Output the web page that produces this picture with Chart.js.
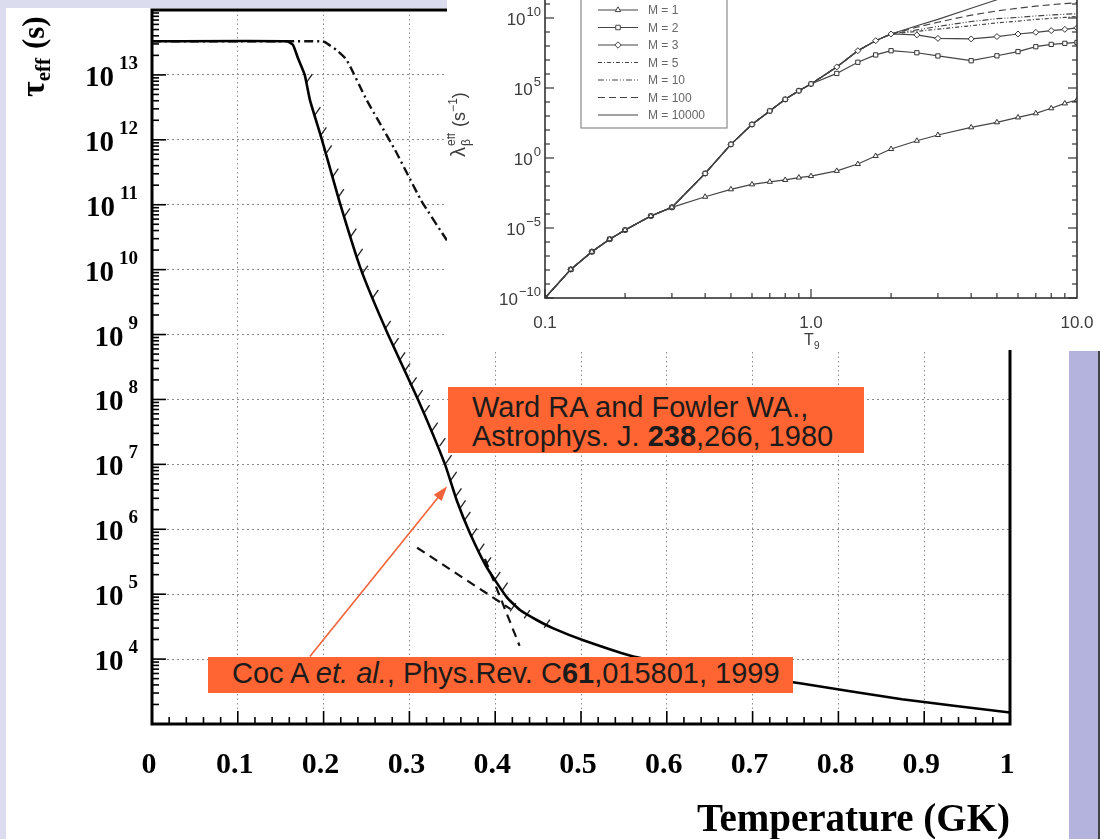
<!DOCTYPE html>
<html>
<head>
<meta charset="utf-8">
<script src="https://cdn.jsdelivr.net/npm/chart.js@4.4.0/dist/chart.umd.min.js"></script>
<style>
  html, body { margin: 0; padding: 0; }
  body { width: 1100px; height: 839px; position: relative; overflow: hidden; background: #fff;
         font-family: "Liberation Sans", Arial, sans-serif; }
  .strip { position: absolute; background: #dcdcef; }
  #main { position: absolute; left: 0; top: 0; }
  #inset { position: absolute; left: 447px; top: -60px; background: #fff; }
  .ref { position: absolute; background: #ff6532; color: #1b1b1b; font-size: 29px; line-height: 29px;
         white-space: nowrap; box-sizing: content-box; }
</style>
</head>
<body>
<div class="strip" style="left:0;top:0;width:1100px;height:8px"></div>
<div class="strip" style="left:0;top:0;width:6px;height:839px"></div>
<div style="position:absolute;left:1069px;top:351px;width:29px;height:488px;background:#b3b3dd"></div>
<div style="position:absolute;left:1098px;top:351px;width:2px;height:488px;background:#444"></div>
<canvas id="main" width="1100" height="839"></canvas>
<canvas id="inset" width="653" height="410"></canvas>
<div class="ref" style="left:448px;top:387px;width:392px;height:60px;padding:6px 0 0 24px">Ward RA and Fowler WA.,<br>Astrophys. J. <b>238</b>,266, 1980</div>
<div class="ref" style="left:208px;top:657px;width:561px;height:36px;padding:0 0 0 24px;line-height:33px">Coc A <i>et. al.</i>, Phys.Rev. C<b>61</b>,015801, 1999</div>

<script>
// ---- main chart data (T in GK, tau in s) ----
const xTicks = [0, 0.1, 0.2, 0.3, 0.4, 0.5, 0.6, 0.7, 0.8, 0.9, 1];
const xLabels = ['0', '0.1', '0.2', '0.3', '0.4', '0.5', '0.6', '0.7', '0.8', '0.9', '1'];
const yTicks = [1e3, 1e4, 1e5, 1e6, 1e7, 1e8, 1e9, 1e10, 1e11, 1e12, 1e13, 1e14];
const yLabelExps = [4, 5, 6, 7, 8, 9, 10, 11, 12, 13];

// Coc A et al. (solid)
const cocT = [0, 0.1573, 0.1643, 0.1702, 0.178, 0.1841, 0.1981, 0.218, 0.2436, 0.2751, 0.31, 0.3415, 0.3551, 0.3706, 0.3901, 0.4134, 0.4289, 0.4484, 0.4677, 0.5027, 0.561, 0.64, 0.757, 0.874, 1.0];
const cocTau = [3.3e13, 3.3e13, 2.9e13, 1.8e13, 1e13, 4.1e12, 1e12, 1.18e11, 1e10, 1e9, 1e8, 1e7, 2.8e6, 8.7e5, 2.6e5, 9.0e4, 5.7e4, 4.0e4, 2.97e4, 1.95e4, 1.1e4, 7.1e3, 4.2e3, 2.4e3, 1.5e3];
// dash-dot curve
const ddT = [0, 0.1975, 0.2016, 0.2153, 0.2269, 0.2502, 0.2832, 0.3135, 0.3435, 0.37];
const ddTau = [3.3e13, 3.3e13, 3.2e13, 2.4e13, 1.7e13, 4.1e12, 7.0e11, 1.18e11, 2.86e10, 9e9];
// dashed fits
const dash1T = [0.309, 0.418];
const dash1Tau = [5.2e5, 5.9e4];
const dash2T = [0.388, 0.4284];
const dash2Tau = [3.5e5, 1.6e4];
// Ward & Fowler hatch marks
const hatchT = [0.1835, 0.1929, 0.1999, 0.2061, 0.2138, 0.2203, 0.2274, 0.2347, 0.2421, 0.2483, 0.2604, 0.2748, 0.284, 0.2916, 0.2974, 0.305, 0.312, 0.3202, 0.3296, 0.3385, 0.3458, 0.3517, 0.3573, 0.3621, 0.3677, 0.3753, 0.3839, 0.3918, 0.4026, 0.4111, 0.4207, 0.4371, 0.4604];
const hatchTau = [8.9e12, 2.75e12, 1.35e12, 7.1e11, 3.1e11, 1.5e11, 7.6e10, 3.7e10, 1.8e10, 1e10, 4.2e9, 1.4e9, 7.6e8, 4.6e8, 3.1e8, 1.9e8, 1.2e8, 7.1e7, 3.8e7, 2.2e7, 1.2e7, 6.6e6, 3.7e6, 2.4e6, 1.6e6, 8.9e5, 5.2e5, 3.2e5, 1.9e5, 1.3e5, 6.3e4, 4.9e4, 3.5e4];
// arrow (from label to curve)
const arrowFrom = [0.184, 1.1e4];
const arrowTo = [0.344, 4.6e6];

// ---- inset data (T9, lambda in s^-1) ----
const t9 = [0.1, 0.125, 0.15, 0.175, 0.2, 0.25, 0.3, 0.4, 0.5, 0.6, 0.7, 0.8, 0.9, 1.0, 1.25, 1.5, 1.75, 2, 2.5, 3, 4, 5, 6, 7, 8, 9, 10];
const lamM1 = [1e-10, 1.1e-8, 2.0e-7, 1.6e-6, 7.2e-6, 7.2e-5, 3.0e-4, 1.7e-3, 5.8e-3, 1.3e-2, 2.0e-2, 2.7e-2, 4.0e-2, 5.1e-2, 0.12, 0.37, 1.4, 4.4, 17, 44, 155, 355, 790, 1550, 3550, 7900, 1.4e4];
const lamM2 = [1e-10, 1.1e-8, 2.0e-7, 1.6e-6, 7.2e-6, 7.2e-5, 3.0e-4, 0.079, 9.5, 250, 2300, 1.55e4, 6.3e4, 1.95e5, 1.1e6, 6.9e6, 2.3e7, 4.6e7, 3.3e7, 1.95e7, 8.9e6, 2.0e7, 4.0e7, 8.9e7, 1.3e8, 1.55e8, 1.8e8];
const lamM3 = [1e-10, 1.1e-8, 2.0e-7, 1.6e-6, 7.2e-6, 7.2e-5, 3.0e-4, 0.079, 9.5, 250, 2300, 1.55e4, 6.3e4, 1.95e5, 3.2e6, 4.6e7, 2.4e8, 7.2e8, 6.2e8, 3.5e8, 3.2e8, 4.7e8, 7.2e8, 9.5e8, 1.26e9, 1.55e9, 2.0e9];
const lamM5 = [1e-10, 1.1e-8, 2.0e-7, 1.6e-6, 7.2e-6, 7.2e-5, 3.0e-4, 0.079, 9.5, 250, 2300, 1.55e4, 6.3e4, 1.95e5, 3.2e6, 4.6e7, 2.4e8, 7.2e8, 1.1e9, 1.6e9, 2.8e9, 4.5e9, 6.0e9, 7.9e9, 9.5e9, 1.1e10, 1.26e10];
const lamM10 = [1e-10, 1.1e-8, 2.0e-7, 1.6e-6, 7.2e-6, 7.2e-5, 3.0e-4, 0.079, 9.5, 250, 2300, 1.55e4, 6.3e4, 1.95e5, 3.2e6, 4.6e7, 2.4e8, 7.2e8, 1.4e9, 2.5e9, 5.6e9, 8.9e9, 1.1e10, 1.4e10, 1.65e10, 1.85e10, 2.0e10];
const lamM100 = [1e-10, 1.1e-8, 2.0e-7, 1.6e-6, 7.2e-6, 7.2e-5, 3.0e-4, 0.079, 9.5, 250, 2300, 1.55e4, 6.3e4, 1.95e5, 3.2e6, 4.6e7, 2.4e8, 7.2e8, 2.2e9, 5.0e9, 1.6e10, 3.2e10, 5.0e10, 7.1e10, 8.9e10, 1.07e11, 1.26e11];
const lamM10000 = [1e-10, 1.1e-8, 2.0e-7, 1.6e-6, 7.2e-6, 7.2e-5, 3.0e-4, 0.079, 9.5, 250, 2300, 1.55e4, 6.3e4, 1.95e5, 3.2e6, 4.6e7, 2.4e8, 7.2e8, 2.8e9, 7.9e9, 5.0e10, 2.0e11, 6.3e11, 1.6e12, 3.2e12, 6.3e12, 1e13];
const insetNames = ['M = 1', 'M = 2', 'M = 3', 'M = 5', 'M = 10', 'M = 100', 'M = 10000'];
const insetYExps = [-10, -5, 0, 5, 10];
const insetXTicks = [0.1, 1, 10];
const insetXLabels = ['0.1', '1.0', '10.0'];

const pts = (xs, ys) => xs.map((v, i) => ({ x: v, y: ys[i] }));

function seg(ctx, x1, y1, x2, y2) {
  ctx.beginPath(); ctx.moveTo(x1, y1); ctx.lineTo(x2, y2); ctx.stroke();
}

// frame, inward ticks, tick labels, titles, arrow for the main chart
const mainDecor = {
  id: 'mainDecor',
  afterDraw(chart) {
    const { ctx, chartArea: a, scales: { x, y } } = chart;
    ctx.save();
    ctx.strokeStyle = '#000';
    ctx.lineWidth = 3;
    ctx.strokeRect(a.left, a.top, a.right - a.left, a.bottom - a.top);

    // log minor ticks on the left axis
    ctx.lineWidth = 1.6;
    for (let e = 3; e < 14; e++) {
      for (let m = 1; m <= 9; m++) {
        const py = y.getPixelForValue(m * Math.pow(10, e));
        seg(ctx, a.left, py, a.left + (m === 1 ? 14 : 7), py);
      }
    }
    // bottom ticks every 0.02
    for (let i = 0; i <= 50; i++) {
      const px = x.getPixelForValue(i / 50);
      seg(ctx, px, a.bottom, px, a.bottom - (i % 5 === 0 ? 13 : 7));
    }

    ctx.fillStyle = '#000';
    ctx.textBaseline = 'alphabetic';
    // x labels
    ctx.font = 'bold 30px "Liberation Serif"';
    ctx.textAlign = 'center';
    xTicks.forEach((v, i) => ctx.fillText(xLabels[i], x.getPixelForValue(v) - 3, a.bottom + 49));
    // y labels: 10 with raised exponent
    yLabelExps.forEach(e => {
      const py = y.getPixelForValue(Math.pow(10, e));
      ctx.textAlign = 'right';
      ctx.font = 'bold 19px "Liberation Serif"';
      ctx.fillText(String(e), a.left - 14, py - 6);
      const w = ctx.measureText(String(e)).width;
      ctx.font = 'bold 29px "Liberation Serif"';
      ctx.fillText('10', a.left - 19 - w, py + 11);
    });
    // x title
    ctx.font = 'bold 39px "Liberation Serif"';
    ctx.textAlign = 'right';
    ctx.fillText('Temperature (GK)', a.right, a.bottom + 107);

    // y title, rotated
    ctx.save();
    ctx.translate(44, 97);
    ctx.rotate(-Math.PI / 2);
    ctx.textAlign = 'left';
    ctx.font = 'bold 34px "Liberation Serif"';
    ctx.fillText('τ', 0, 0);
    let off = ctx.measureText('τ').width;
    ctx.font = 'bold 21px "Liberation Serif"';
    ctx.fillText('eff', off, 6);
    off += ctx.measureText('eff').width + 9;
    ctx.font = 'bold 31px "Liberation Serif"';
    ctx.fillText('(s)', off, 0);
    ctx.restore();

    // arrow
    const x0 = x.getPixelForValue(arrowFrom[0]), y0 = y.getPixelForValue(arrowFrom[1]);
    const x1 = x.getPixelForValue(arrowTo[0]), y1 = y.getPixelForValue(arrowTo[1]);
    const ang = Math.atan2(y1 - y0, x1 - x0);
    ctx.strokeStyle = '#f2633a';
    ctx.fillStyle = '#f2633a';
    ctx.lineWidth = 1.6;
    seg(ctx, x0, y0, x1 - 10 * Math.cos(ang), y1 - 10 * Math.sin(ang));
    ctx.beginPath();
    ctx.moveTo(x1, y1);
    ctx.lineTo(x1 - 15 * Math.cos(ang) + 5 * Math.sin(ang), y1 - 15 * Math.sin(ang) - 5 * Math.cos(ang));
    ctx.lineTo(x1 - 15 * Math.cos(ang) - 5 * Math.sin(ang), y1 - 15 * Math.sin(ang) + 5 * Math.cos(ang));
    ctx.closePath();
    ctx.fill();
    ctx.restore();
  }
};

const gridOpts = { color: '#8a8a8a', lineWidth: 1, drawTicks: false, borderDash: [2, 3] };

new Chart(document.getElementById('main'), {
  type: 'line',
  data: {
    datasets: [
      { data: pts(cocT, cocTau), borderColor: '#000', borderWidth: 2.6, pointRadius: 0, tension: 0.15 },
      { data: pts(ddT, ddTau), borderColor: '#111', borderWidth: 2.4, borderDash: [9, 4, 2, 4], pointRadius: 0, tension: 0.15 },
      { data: pts(dash1T, dash1Tau), borderColor: '#111', borderWidth: 2.2, borderDash: [9, 6], pointRadius: 0 },
      { data: pts(dash2T, dash2Tau), borderColor: '#111', borderWidth: 2.2, borderDash: [9, 6], pointRadius: 0 },
      { data: pts(hatchT, hatchTau), showLine: false, pointStyle: 'line', pointRadius: 5, pointRotation: -55,
        pointBorderColor: '#222', pointBorderWidth: 1.3, borderColor: '#222' }
    ]
  },
  options: {
    responsive: false,
    animation: false,
    devicePixelRatio: 1,
    layout: { padding: { left: 152, top: 10, right: 90, bottom: 115 } },
    plugins: { legend: { display: false }, tooltip: { enabled: false } },
    scales: {
      x: {
        type: 'linear', min: 0, max: 1,
        afterBuildTicks: s => { s.ticks = xTicks.map(v => ({ value: v })); },
        ticks: { display: false },
        grid: gridOpts,
        border: { display: false, dash: [1.5, 3] }
      },
      y: {
        type: 'logarithmic', min: 1e3, max: 1e14,
        afterBuildTicks: s => { s.ticks = yTicks.map(v => ({ value: v })); },
        ticks: { display: false },
        grid: gridOpts,
        border: { display: false, dash: [2, 3] }
      }
    }
  },
  plugins: [mainDecor]
});

// ---- inset ----
const insetDecor = {
  id: 'insetDecor',
  afterDraw(chart) {
    const { ctx, chartArea: a, scales: { x, y } } = chart;
    ctx.save();
    ctx.strokeStyle = '#333';
    ctx.lineWidth = 1.6;
    ctx.strokeRect(a.left, a.top, a.right - a.left, a.bottom - a.top);
    ctx.lineWidth = 1.2;
    for (let e = -10; e <= 15; e++) {
      const py = y.getPixelForValue(Math.pow(10, e));
      const len = e % 5 === 0 ? 9 : 5;
      seg(ctx, a.left, py, a.left + len, py);
      seg(ctx, a.right, py, a.right - len, py);
    }
    for (let e = -1; e <= 0; e++) {
      for (let m = 1; m <= 9; m++) {
        const px = x.getPixelForValue(m * Math.pow(10, e));
        seg(ctx, px, a.bottom, px, a.bottom - (m === 1 ? 9 : 5));
      }
    }

    ctx.fillStyle = '#3c3c3c';
    ctx.textBaseline = 'alphabetic';
    insetYExps.forEach(e => {
      const py = y.getPixelForValue(Math.pow(10, e));
      const s = e < 0 ? '\u2212' + (-e) : String(e);
      ctx.textAlign = 'right';
      ctx.font = '13px "Liberation Sans"';
      ctx.fillText(s, a.left - 4, py - 2);
      const w = ctx.measureText(s).width;
      ctx.font = '17px "Liberation Sans"';
      ctx.fillText('10', a.left - 5 - w, py + 7);
    });
    ctx.textAlign = 'center';
    ctx.font = '17px "Liberation Sans"';
    insetXTicks.forEach((v, i) => ctx.fillText(insetXLabels[i], x.getPixelForValue(v), a.bottom + 30));
    // T9
    const tx = x.getPixelForValue(1);
    ctx.textAlign = 'left';
    ctx.font = '16px "Liberation Sans"';
    ctx.fillText('T', tx - 7, a.bottom + 47);
    ctx.font = '10px "Liberation Sans"';
    ctx.fillText('9', tx + 3, a.bottom + 51);

    // y title
    ctx.save();
    ctx.translate(a.left - 80, a.bottom - 141);
    ctx.rotate(-Math.PI / 2);
    ctx.textAlign = 'left';
    ctx.font = '20px "Liberation Sans"';
    ctx.fillText('λ', 0, 0);
    let off = ctx.measureText('λ').width + 1;
    ctx.font = '12px "Liberation Sans"';
    ctx.fillText('β', off, 5);
    ctx.fillText('eff', off, -10);
    off += ctx.measureText('eff').width + 6;
    ctx.font = '18px "Liberation Sans"';
    ctx.fillText('(s', off, 0);
    off += ctx.measureText('(s').width;
    ctx.font = '12px "Liberation Sans"';
    ctx.fillText('\u22121', off, -8);
    off += ctx.measureText('\u22121').width;
    ctx.font = '18px "Liberation Sans"';
    ctx.fillText(')', off, 0);
    ctx.restore();

    // legend box
    const bx = a.left + 36, by = a.top + 44;
    ctx.fillStyle = '#fff';
    ctx.fillRect(bx, by, 146, 136);
    ctx.strokeStyle = '#8a8a8a';
    ctx.lineWidth = 1.2;
    ctx.strokeRect(bx, by, 146, 136);
    chart.data.datasets.forEach((ds, i) => {
      const yy = a.top + 62 + 17.5 * i;
      ctx.strokeStyle = ds.borderColor;
      ctx.lineWidth = ds.borderWidth;
      ctx.setLineDash(ds.borderDash || []);
      seg(ctx, a.left + 53, yy, a.left + 93, yy);
      ctx.setLineDash([]);
      if (ds.pointRadius > 0) {
        ctx.fillStyle = '#fff';
        ctx.lineWidth = 1;
        Chart.helpers.drawPoint(ctx, { pointStyle: ds.pointStyle, radius: 3.2, rotation: 0, borderWidth: 1 }, a.left + 73, yy);
      }
      ctx.fillStyle = '#666';
      ctx.font = '12px "Liberation Sans"';
      ctx.fillText(ds.label, a.left + 103, yy + 4);
    });
    ctx.restore();
  }
};

const insetStyles = [
  { pointStyle: 'triangle', pointRadius: 3, borderDash: [] },
  { pointStyle: 'rect', pointRadius: 3, borderDash: [] },
  { pointStyle: 'rectRot', pointRadius: 3, borderDash: [] },
  { pointStyle: false, pointRadius: 0, borderDash: [4, 2, 1, 2] },
  { pointStyle: false, pointRadius: 0, borderDash: [6, 2, 1, 2, 1, 2] },
  { pointStyle: false, pointRadius: 0, borderDash: [7, 4] },
  { pointStyle: false, pointRadius: 0, borderDash: [] }
];
const insetValues = [lamM1, lamM2, lamM3, lamM5, lamM10, lamM100, lamM10000];

new Chart(document.getElementById('inset'), {
  type: 'line',
  data: {
    datasets: insetValues.map((vals, i) => ({
      label: insetNames[i],
      data: pts(t9, vals),
      borderColor: '#444',
      borderWidth: 1.2,
      borderDash: insetStyles[i].borderDash,
      pointStyle: insetStyles[i].pointStyle || 'circle',
      pointRadius: insetStyles[i].pointRadius,
      pointBackgroundColor: '#fff',
      pointBorderColor: '#333',
      pointBorderWidth: 1
    }))
  },
  options: {
    responsive: false,
    animation: false,
    devicePixelRatio: 1,
    layout: { padding: { left: 98, top: 8, right: 23, bottom: 52 } },
    plugins: { legend: { display: false }, tooltip: { enabled: false } },
    scales: {
      x: { type: 'logarithmic', min: 0.1, max: 10, display: false },
      y: { type: 'logarithmic', min: 1e-10, max: 1e15, display: false }
    }
  },
  plugins: [insetDecor]
});
</script>
</body>
</html>
